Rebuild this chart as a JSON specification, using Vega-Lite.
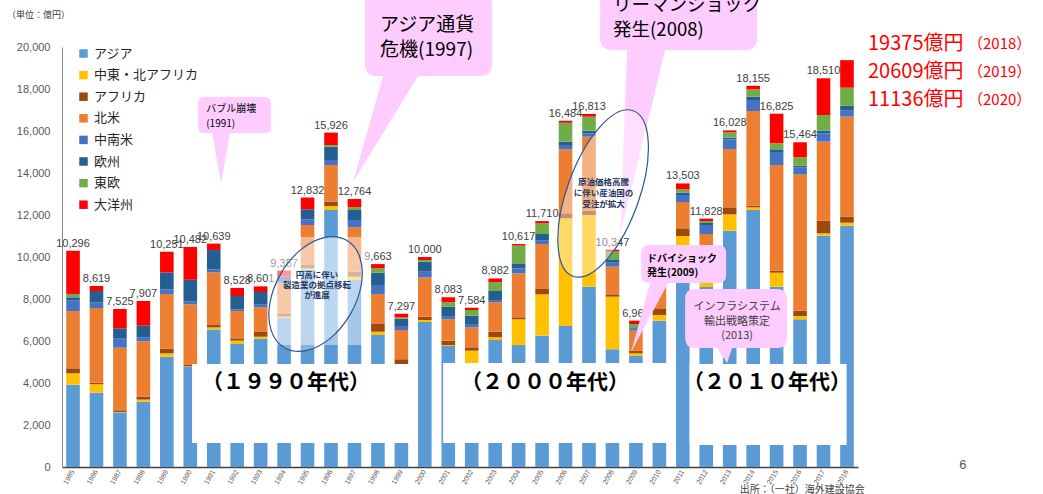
{
  "$schema": "https://vega.github.io/schema/vega-lite/v6.json",
  "width": 796,
  "height": 420,
  "autosize": {"type": "none"},
  "padding": {"left": 62, "top": 47, "right": 185, "bottom": 27},
  "background": "white",
  "config": {"font": "Noto Sans CJK JP", "view": {"stroke": null}},
  "datasets": {
    "orders": [
      {"year": 1985, "アジア": 3920, "中東・北アフリカ": 540, "アフリカ": 240, "北米": 2728, "中南米": 492, "欧州": 160, "東欧": 160, "大洋州": 2056, "total": 10296},
      {"year": 1986, "アジア": 3540, "中東・北アフリカ": 400, "アフリカ": 80, "北米": 3552, "中南米": 254, "欧州": 555, "東欧": 0, "大洋州": 238, "total": 8619},
      {"year": 1987, "アジア": 2600, "中東・北アフリカ": 20, "アフリカ": 80, "北米": 2983, "中南米": 428, "欧州": 492, "東欧": 0, "大洋州": 922, "total": 7525},
      {"year": 1988, "アジア": 3110, "中東・北アフリカ": 100, "アフリカ": 140, "北米": 2635, "中南米": 190, "欧州": 554, "東欧": 0, "大洋州": 1178, "total": 7907},
      {"year": 1989, "アジア": 5250, "中東・北アフリカ": 160, "アフリカ": 220, "北米": 2605, "中南米": 225, "欧州": 808, "東欧": 0, "大洋州": 983, "total": 10251},
      {"year": 1990, "アジア": 4780, "中東・北アフリカ": 20, "アフリカ": 60, "北米": 2890, "中南米": 140, "欧州": 1030, "東欧": 0, "大洋州": 1562, "total": 10482},
      {"year": 1991, "アジア": 6550, "中東・北アフリカ": 100, "アフリカ": 110, "北米": 2510, "中南米": 140, "欧州": 920, "東欧": 0, "大洋州": 309, "total": 10639},
      {"year": 1992, "アジア": 5857, "中東・北アフリカ": 160, "アフリカ": 110, "北米": 1300, "中南米": 80, "欧州": 635, "東欧": 0, "大洋州": 386, "total": 8528},
      {"year": 1993, "アジア": 6110, "中東・北アフリカ": 95, "アフリカ": 225, "北米": 1174, "中南米": 127, "欧州": 603, "東欧": 0, "大洋州": 267, "total": 8601},
      {"year": 1994, "アジア": 7100, "中東・北アフリカ": 60, "アフリカ": 157, "北米": 1430, "中南米": 110, "欧州": 210, "東欧": 0, "大洋州": 290, "total": 9357},
      {"year": 1995, "アジア": 9400, "中東・北アフリカ": 60, "アフリカ": 160, "北米": 1905, "中南米": 270, "欧州": 476, "東欧": 0, "大洋州": 561, "total": 12832},
      {"year": 1996, "アジア": 12238, "中東・北アフリカ": 191, "アフリカ": 206, "北米": 1746, "中南米": 238, "欧州": 635, "東欧": 79, "大洋州": 593, "total": 15926},
      {"year": 1997, "アジア": 8905, "中東・北アフリカ": 158, "アフリカ": 239, "北米": 2111, "中南米": 349, "欧州": 476, "東欧": 127, "大洋州": 399, "total": 12764},
      {"year": 1998, "アジア": 6286, "中東・北アフリカ": 158, "アフリカ": 366, "北米": 1428, "中南米": 429, "欧州": 587, "東欧": 206, "大洋州": 203, "total": 9663},
      {"year": 1999, "アジア": 4800, "中東・北アフリカ": 57, "アフリカ": 270, "北米": 1397, "中南米": 190, "欧州": 350, "東欧": 60, "大洋州": 173, "total": 7297},
      {"year": 2000, "アジア": 6905, "中東・北アフリカ": 95, "アフリカ": 159, "北米": 1873, "中南米": 270, "欧州": 476, "東欧": 79, "大洋州": 143, "total": 10000},
      {"year": 2001, "アジア": 5760, "中東・北アフリカ": 50, "アフリカ": 206, "北米": 1016, "中南米": 127, "欧州": 476, "東欧": 206, "大洋州": 242, "total": 8083},
      {"year": 2002, "アジア": 4950, "中東・北アフリカ": 590, "アフリカ": 158, "北米": 953, "中南米": 159, "欧州": 396, "東欧": 270, "大洋州": 108, "total": 7584},
      {"year": 2003, "アジア": 6048, "中東・北アフリカ": 127, "アフリカ": 269, "北米": 1397, "中南米": 80, "欧州": 460, "東欧": 413, "大洋州": 188, "total": 8982},
      {"year": 2004, "アジア": 5810, "中東・北アフリカ": 1222, "アフリカ": 95, "北米": 2095, "中南米": 238, "欧州": 238, "東欧": 842, "大洋州": 77, "total": 10617},
      {"year": 2005, "アジア": 6254, "中東・北アフリカ": 1968, "アフリカ": 254, "北米": 2143, "中南米": 159, "欧州": 317, "東欧": 508, "大洋州": 107, "total": 11710},
      {"year": 2006, "アジア": 6714, "中東・北アフリカ": 5127, "アフリカ": 238, "北米": 3048, "中南米": 206, "欧州": 159, "東欧": 905, "大洋州": 87, "total": 16484},
      {"year": 2007, "アジア": 8587, "中東・北アフリカ": 3413, "アフリカ": 200, "北米": 3530, "中南米": 159, "欧州": 127, "東欧": 667, "大洋州": 130, "total": 16813},
      {"year": 2008, "アジア": 5603, "中東・北アフリカ": 2508, "アフリカ": 111, "北米": 1318, "中南米": 190, "欧州": 159, "東欧": 370, "大洋州": 88, "total": 10347},
      {"year": 2009, "アジア": 5286, "中東・北アフリカ": 127, "アフリカ": 127, "北米": 952, "中南米": 95, "欧州": 64, "東欧": 159, "大洋州": 159, "total": 6969},
      {"year": 2010, "アジア": 6968, "中東・北アフリカ": 270, "アフリカ": 318, "北米": 1031, "中南米": 175, "欧州": 400, "東欧": 300, "大洋州": 218, "total": null},
      {"year": 2011, "アジア": 10500, "中東・北アフリカ": 500, "アフリカ": 365, "北米": 1254, "中南米": 333, "欧州": 111, "東欧": 159, "大洋州": 281, "total": 13503},
      {"year": 2012, "アジア": 8571, "中東・北アフリカ": 329, "アフリカ": 100, "北米": 2095, "中南米": 429, "欧州": 95, "東欧": 95, "大洋州": 114, "total": 11828},
      {"year": 2013, "アジア": 11254, "中東・北アフリカ": 778, "アフリカ": 333, "北米": 2778, "中南米": 460, "欧州": 80, "東欧": 254, "大洋州": 91, "total": 16028},
      {"year": 2014, "アジア": 12238, "中東・北アフリカ": 127, "アフリカ": 79, "北米": 4508, "中南米": 524, "欧州": 159, "東欧": 349, "大洋州": 171, "total": 18155},
      {"year": 2015, "アジア": 8587, "中東・北アフリカ": 667, "アフリカ": 95, "北米": 5032, "中南米": 619, "欧州": 127, "東欧": 286, "大洋州": 1412, "total": 16825},
      {"year": 2016, "アジア": 7032, "中東・北アフリカ": 158, "アフリカ": 254, "北米": 6493, "中南米": 333, "欧州": 79, "東欧": 397, "大洋州": 718, "total": 15464},
      {"year": 2017, "アジア": 11016, "中東・北アフリカ": 111, "アフリカ": 603, "北米": 3762, "中南米": 397, "欧州": 127, "東欧": 747, "大洋州": 1747, "total": 18510},
      {"year": 2018, "アジア": 11492, "中東・北アフリカ": 143, "アフリカ": 286, "北米": 4762, "中南米": 285, "欧州": 238, "東欧": 857, "大洋州": 1312, "total": null}
    ],
    "regions": [
      {"region": "アジア", "k": 1},
      {"region": "中東・北アフリカ", "k": 2},
      {"region": "アフリカ", "k": 3},
      {"region": "北米", "k": 4},
      {"region": "中南米", "k": 5},
      {"region": "欧州", "k": 6},
      {"region": "東欧", "k": 7},
      {"region": "大洋州", "k": 8}
    ]
  },
  "data": {"name": "orders"},
  "layer": [
    {
      "transform": [
        {"fold": ["アジア", "中東・北アフリカ", "アフリカ", "北米", "中南米", "欧州", "東欧", "大洋州"], "as": ["region", "value"]},
        {"lookup": "region", "from": {"data": {"name": "regions"}, "key": "region", "fields": ["k"]}}
      ],
      "mark": {"type": "bar"},
      "encoding": {
        "x": {
          "field": "year", "type": "ordinal",
          "scale": {"domain": [1985,1986,1987,1988,1989,1990,1991,1992,1993,1994,1995,1996,1997,1998,1999,2000,2001,2002,2003,2004,2005,2006,2007,2008,2009,2010,2011,2012,2013,2014,2015,2016,2017,2018], "paddingInner": 0.42, "paddingOuter": 0.18},
          "axis": {"title": null, "labelAngle": -60, "labelFontSize": 7, "labelFont": "Liberation Sans", "labelColor": "#595959", "ticks": false, "domainColor": "#404040", "domainWidth": 1.5, "labelPadding": 3}
        },
        "y": {
          "field": "value", "type": "quantitative", "stack": "zero",
          "scale": {"domain": [0, 20000], "nice": false},
          "axis": {"title": null, "values": [0,2000,4000,6000,8000,10000,12000,14000,16000,18000,20000], "labelExpr": "format(datum.value, ',')", "labelFontSize": 11, "labelFont": "Liberation Sans", "labelColor": "#595959", "ticks": false, "grid": false, "domainColor": "#868686", "labelPadding": 12}
        },
        "color": {
          "field": "region", "type": "nominal",
          "scale": {"domain": ["アジア", "中東・北アフリカ", "アフリカ", "北米", "中南米", "欧州", "東欧", "大洋州"], "range": ["#5B9BD5", "#FFC000", "#9E480E", "#ED7D31", "#4472C4", "#255E91", "#70AD47", "#FF0000"]},
          "legend": {"title": null, "orient": "none", "legendX": 15, "legendY": 0, "symbolType": "square", "symbolSize": 72, "symbolStrokeWidth": 0, "labelFontSize": 13, "labelColor": "#262626", "rowPadding": 7.6, "labelOffset": 4, "padding": 0}
        },
        "order": {"field": "k", "type": "quantitative", "sort": "ascending"}
      }
    },
    {
      "transform": [{"filter": "datum.total != null"}],
      "mark": {"type": "text", "baseline": "bottom", "dy": -2, "fontSize": 11, "font": "Liberation Sans", "color": "#404040"},
      "encoding": {
        "x": {"field": "year", "type": "ordinal"},
        "y": {"field": "total", "type": "quantitative"},
        "text": {"field": "total", "type": "quantitative", "format": ","}
      }
    },
    {
      "data": {"values": [{}]},
      "mark": {"type": "point", "shape": "M-1.155,-0.40L1.105,-0.40L1.105,0.39L-1.155,0.39Z", "size": 40000, "filled": true, "fill": "white", "opacity": 1, "strokeWidth": 0},
      "encoding": {"x": {"datum": 1995, "type": "ordinal"}, "y": {"datum": 3000, "type": "quantitative"}}
    },
    {
      "data": {"values": [{}]},
      "mark": {"type": "point", "shape": "M-1.2245,-0.41L1.1005,-0.41L1.1005,0.39L-1.2245,0.39Z", "size": 40000, "filled": true, "fill": "white", "opacity": 1, "strokeWidth": 0},
      "encoding": {"x": {"datum": 2006, "type": "ordinal"}, "y": {"datum": 3000, "type": "quantitative"}}
    },
    {
      "data": {"values": [{}]},
      "mark": {"type": "point", "shape": "M-0.87,-0.40L0.70,-0.40L0.70,0.41L-0.87,0.41Z", "size": 40000, "filled": true, "fill": "white", "opacity": 1, "strokeWidth": 0},
      "encoding": {"x": {"datum": 2015, "type": "ordinal"}, "y": {"datum": 3000, "type": "quantitative"}}
    },
    {
      "data": {"values": [{}]},
      "mark": {"type": "text", "text": "（１９９０年代）", "fontSize": 21, "fontWeight": "bold", "color": "#000000", "align": "center", "baseline": "middle", "dx": -21.5},
      "encoding": {"x": {"datum": 1995, "type": "ordinal"}, "y": {"datum": 4000, "type": "quantitative"}}
    },
    {
      "data": {"values": [{}]},
      "mark": {"type": "text", "text": "（２０００年代）", "fontSize": 21, "fontWeight": "bold", "color": "#000000", "align": "center", "baseline": "middle", "dx": 3},
      "encoding": {"x": {"datum": 2005, "type": "ordinal"}, "y": {"datum": 4000, "type": "quantitative"}}
    },
    {
      "data": {"values": [{}]},
      "mark": {"type": "text", "text": "（２０１０年代）", "fontSize": 21, "fontWeight": "bold", "color": "#000000", "align": "center", "baseline": "middle", "dx": -9.5},
      "encoding": {"x": {"datum": 2015, "type": "ordinal"}, "y": {"datum": 4000, "type": "quantitative"}}
    },
    {
      "data": {"values": [{}]},
      "mark": {"type": "point", "shape": "M-0.3315,-0.172L0.2785,-0.172Q0.3385,-0.172 0.3385,-0.112L0.3385,0.128Q0.3385,0.188 0.2785,0.188L-0.0715,0.188L-0.1615,0.688L-0.2515,0.188L-0.3315,0.188Q-0.3915,0.188 -0.3915,0.128L-0.3915,-0.112Q-0.3915,-0.172 -0.3315,-0.172Z", "size": 40000, "filled": true, "fill": "#FFCCFF", "opacity": 1, "strokeWidth": 0},
      "encoding": {"x": {"datum": 1992, "type": "ordinal"}, "y": {"datum": 16800, "type": "quantitative"}}
    },
    {
      "data": {"values": [{}]},
      "mark": {"type": "point", "shape": "M-0.4775,-1.6L0.5525,-1.6Q0.6725,-1.6 0.6725,-1.48L0.6725,-0.88Q0.6725,-0.76 0.5525,-0.76L-0.0675,-0.76L-0.7175,0.3L-0.4175,-0.76L-0.4775,-0.76Q-0.5975,-0.76 -0.5975,-0.88L-0.5975,-1.48Q-0.5975,-1.6 -0.4775,-1.6Z", "size": 40000, "filled": true, "fill": "#FFCCFF", "opacity": 1, "strokeWidth": 0},
      "encoding": {"x": {"datum": 2000, "type": "ordinal"}, "y": {"datum": 15000, "type": "quantitative"}}
    },
    {
      "data": {"values": [{}]},
      "mark": {"type": "point", "shape": "M-0.707,-1.62L0.623,-1.62Q0.743,-1.62 0.743,-1.5L0.743,-1.14Q0.743,-1.02 0.623,-1.02L-0.177,-1.02L-0.627,0.83L-0.557,-1.02L-0.707,-1.02Q-0.827,-1.02 -0.827,-1.14L-0.827,-1.5Q-0.827,-1.62 -0.707,-1.62Z", "size": 40000, "filled": true, "fill": "#FFCCFF", "opacity": 1, "strokeWidth": 0},
      "encoding": {"x": {"datum": 2011, "type": "ordinal"}, "y": {"datum": 15000, "type": "quantitative"}}
    },
    {
      "data": {"values": [{}]},
      "mark": {"type": "point", "shape": "M-0.1025,0.3L0.5875,0.3Q0.6675,0.3 0.6675,0.38L0.6675,0.6Q0.6675,0.68 0.5875,0.68L0.0875,0.68L-0.2825,1.37L-0.0925,0.68L-0.1025,0.68Q-0.1825,0.68 -0.1825,0.6L-0.1825,0.38Q-0.1825,0.3 -0.1025,0.3Z", "size": 40000, "filled": true, "fill": "#FFCCFF", "opacity": 1, "strokeWidth": 0},
      "encoding": {"x": {"datum": 2010, "type": "ordinal"}, "y": {"datum": 12000, "type": "quantitative"}}
    },
    {
      "data": {"values": [{}]},
      "mark": {"type": "point", "shape": "M-0.346,-0.52L0.474,-0.52Q0.574,-0.52 0.574,-0.42L0.574,-0.03Q0.574,0.07 0.474,0.07L0.024,0.07L-0.026,0.22L-0.126,0.07L-0.346,0.07Q-0.446,0.07 -0.446,-0.03L-0.446,-0.42Q-0.446,-0.52 -0.346,-0.52Z", "size": 40000, "filled": true, "fill": "#FFCCFF", "opacity": 1, "strokeWidth": 0},
      "encoding": {"x": {"datum": 2013, "type": "ordinal"}, "y": {"datum": 6000, "type": "quantitative"}}
    },
    {
      "data": {"values": [{}]},
      "mark": {"type": "point", "shape": "M-0.637,-0.919L1.008,-0.919L1.008,0.823L-0.637,0.823Z", "size": 15376, "filled": true, "fill": "white", "opacity": 0.45, "strokeWidth": 0},
      "encoding": {"x": {"datum": 1995, "type": "ordinal"}, "y": {"datum": 8238, "type": "quantitative"}}
    },
    {
      "data": {"values": [{}]},
      "mark": {"type": "point", "shape": "M0.629,-0.866A1,0.645,-60,1,0,-0.371,0.866A1,0.645,-60,1,0,0.629,-0.866Z", "size": 15376, "filled": true, "fill": "white", "fillOpacity": 0.25, "stroke": "#2F5597", "strokeWidth": 1.2, "opacity": 1},
      "encoding": {"x": {"datum": 1995, "type": "ordinal"}, "y": {"datum": 8238, "type": "quantitative"}}
    },
    {
      "data": {"values": [{}]},
      "mark": {"type": "point", "shape": "M0.236,-0.94A1,0.409,-70,1,0,-0.448,0.94A1,0.409,-70,1,0,0.236,-0.94Z", "size": 30976, "filled": true, "fill": "white", "fillOpacity": 0.4, "stroke": "#2F5597", "strokeWidth": 1.2, "opacity": 1},
      "encoding": {"x": {"datum": 2008, "type": "ordinal"}, "y": {"datum": 13024, "type": "quantitative"}}
    },
    {
      "data": {"values": [{}]},
      "mark": {"type": "text", "text": ["円高に伴い", "製造業の拠点移転", "が進展"], "fontSize": 8.5, "fontWeight": "bold", "color": "#1F3864", "lineHeight": 10, "align": "center", "baseline": "middle", "dx": 9.5},
      "encoding": {"x": {"datum": 1995, "type": "ordinal"}, "y": {"datum": 9143, "type": "quantitative"}}
    },
    {
      "data": {"values": [{}]},
      "mark": {"type": "text", "text": ["原油価格高騰", "に伴い産油国の", "受注が拡大"], "fontSize": 8.5, "fontWeight": "bold", "color": "#1F3864", "lineHeight": 11, "align": "center", "baseline": "middle", "dx": -9},
      "encoding": {"x": {"datum": 2008, "type": "ordinal"}, "y": {"datum": 13571, "type": "quantitative"}}
    },
    {
      "data": {"values": [{}]},
      "mark": {"type": "text", "text": ["バブル崩壊", "(1991)"], "fontSize": 10, "color": "#000000", "lineHeight": 15, "align": "left", "baseline": "middle", "dx": -31},
      "encoding": {"x": {"datum": 1992, "type": "ordinal"}, "y": {"datum": 17048, "type": "quantitative"}}
    },
    {
      "data": {"values": [{}]},
      "mark": {"type": "text", "text": ["アジア通貨", "危機(1997)"], "fontSize": 19, "color": "#000000", "lineHeight": 25, "align": "left", "baseline": "middle", "dx": -44.75},
      "encoding": {"x": {"datum": 2000, "type": "ordinal"}, "y": {"datum": 21048, "type": "quantitative"}}
    },
    {
      "data": {"values": [{}]},
      "mark": {"type": "text", "text": ["リーマンショック", "発生(2008)"], "fontSize": 18.5, "color": "#000000", "lineHeight": 25, "align": "left", "baseline": "middle", "dx": -69.7},
      "encoding": {"x": {"datum": 2011, "type": "ordinal"}, "y": {"datum": 22000, "type": "quantitative"}}
    },
    {
      "data": {"values": [{}]},
      "mark": {"type": "text", "text": ["ドバイショック", "発生(2009)"], "fontSize": 10, "fontWeight": "bold", "color": "#000000", "lineHeight": 14, "align": "left", "baseline": "middle", "dx": -12.25},
      "encoding": {"x": {"datum": 2010, "type": "ordinal"}, "y": {"datum": 9905, "type": "quantitative"}}
    },
    {
      "data": {"values": [{}]},
      "mark": {"type": "text", "text": ["インフラシステム", "輸出戦略策定", "(2013)"], "fontSize": 11, "color": "#404040", "lineHeight": 14.5, "align": "center", "baseline": "middle", "dx": 7.4},
      "encoding": {"x": {"datum": 2013, "type": "ordinal"}, "y": {"datum": 7619, "type": "quantitative"}}
    },
    {
      "data": {"values": [{}]},
      "mark": {"type": "text", "text": "（単位：億円）", "fontSize": 9, "color": "#404040", "align": "left", "baseline": "middle", "dx": -66},
      "encoding": {"x": {"datum": 1985, "type": "ordinal"}, "y": {"datum": 21524, "type": "quantitative"}}
    },
    {
      "data": {"values": [{}]},
      "mark": {"type": "text", "text": "6", "fontSize": 13, "font": "Liberation Sans", "color": "#595959", "align": "center", "baseline": "middle", "dx": 116},
      "encoding": {"x": {"datum": 2018, "type": "ordinal"}, "y": {"datum": 95, "type": "quantitative"}}
    },
    {
      "data": {"values": [{}]},
      "mark": {"type": "text", "text": "出所：（一社）海外建設協会", "fontSize": 10, "color": "#404040", "align": "left", "baseline": "middle", "dx": 10},
      "encoding": {"x": {"datum": 2013, "type": "ordinal"}, "y": {"datum": -1095, "type": "quantitative"}}
    },
    {
      "data": {"values": [{}]},
      "mark": {"type": "text", "text": ["19375億円", "20609億円", "11136億円"], "fontSize": 20, "color": "#FF0000", "lineHeight": 28, "align": "left", "baseline": "middle", "dx": 21},
      "encoding": {"x": {"datum": 2018, "type": "ordinal"}, "y": {"datum": 20143, "type": "quantitative"}}
    },
    {
      "data": {"values": [{}]},
      "mark": {"type": "text", "text": ["（2018）", "（2019）", "（2020）"], "fontSize": 15, "color": "#FF0000", "lineHeight": 28, "align": "left", "baseline": "middle", "dx": 121},
      "encoding": {"x": {"datum": 2018, "type": "ordinal"}, "y": {"datum": 20143, "type": "quantitative"}}
    }
  ]
}
